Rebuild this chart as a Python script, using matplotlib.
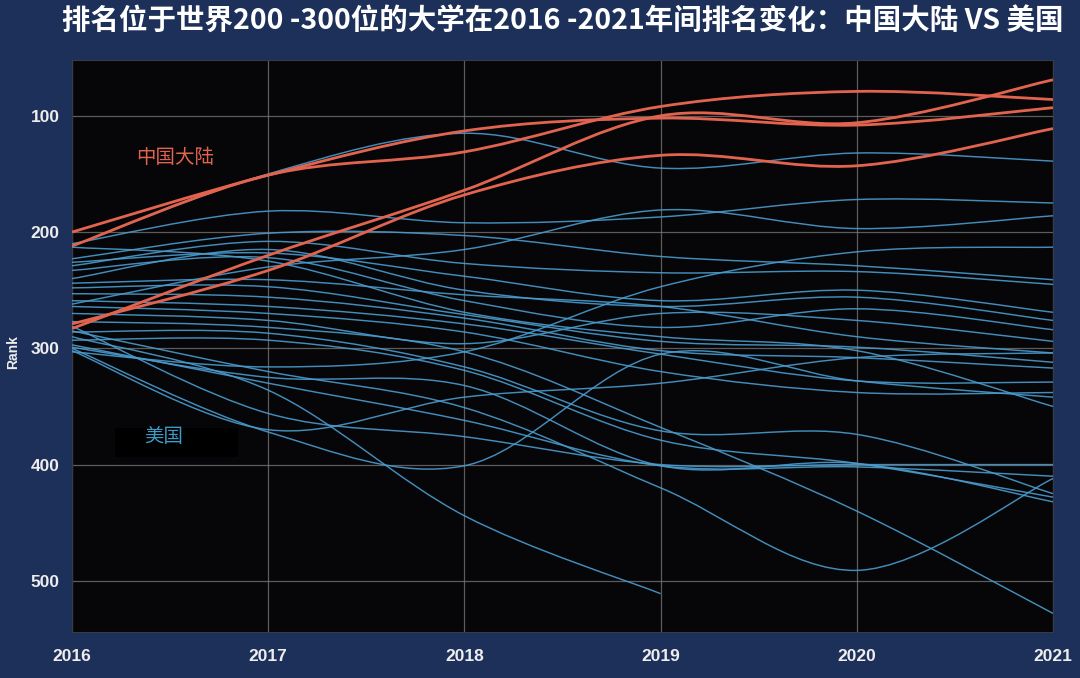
import numpy as np
import matplotlib
matplotlib.use("Agg")
import matplotlib.pyplot as plt
from matplotlib.path import Path
from matplotlib.patches import PathPatch, Rectangle
from matplotlib import font_manager

plt.rcParams["font.family"] = ["Noto Sans CJK SC", "DejaVu Sans"]

# 年份
years = [2016, 2017, 2018, 2019, 2020, 2021]
nan = np.nan

# 中国大陆大学排名
china_ranks = [
    [200, 151, 113, 102, 108, 93],
    [212, 151, 131, 92, 79, 86],
    [283, 220, 164, 100, 106, 69],
    [279, 233, 168, 134, 143, 111],
]

# 美国大学排名
us_ranks = [
    [212, 150, 115, 145, 132, 139],
    [210, 182, 192, 187, 172, 175],
    [262, 230, 215, 181, 197, 186],
    [303, 316, 303, 247, 217, 213],
    [223, 201, 203, 221, 229, 241],
    [229, 208, 227, 235, 234, 245],
    [226, 218, 238, 259, 250, 269],
    [240, 215, 250, 264, 256, 276],
    [233, 222, 259, 282, 266, 284],
    [244, 241, 254, 264, 290, 304],
    [213, 225, 269, 290, 302, 350],
    [248, 247, 271, 294, 299, 312],
    [253, 256, 274, 302, 308, 317],
    [259, 264, 279, 305, 328, 329],
    [264, 270, 286, 320, 338, 338],
    [270, 276, 296, 270, 276, 294],
    [277, 282, 303, 368, 440, 528],
    [286, 287, 316, 371, 374, 425],
    [293, 293, 319, 379, 399, 428],
    [299, 325, 332, 401, 399, 432],
    [285, 320, 351, 420, 491, 412],
    [290, 336, 444, 511, nan, nan],
    [300, 372, 401, 305, 328, 342],
    [302, 370, 342, 330, 308, 304],
    [297, 330, 362, 401, 402, 410],
    [281, 356, 376, 400, 400, 400],
]

rank_ticks = [100, 200, 300, 400, 500]

BG = "#1c3059"
PLOT_BG = "#060608"
RED = "#e2644f"
BLUE = "#4a9ccf"


def smooth_path(xs, ys):
    """用 Catmull-Rom 转 Bezier 的方式画平滑曲线"""
    pts = [(x, y) for x, y in zip(xs, ys) if not np.isnan(y)]
    n = len(pts)
    verts = [pts[0]]
    codes = [Path.MOVETO]
    for i in range(n - 1):
        p0 = pts[max(i - 1, 0)]
        p1 = pts[i]
        p2 = pts[i + 1]
        p3 = pts[min(i + 2, n - 1)]
        c1 = (p1[0] + (p2[0] - p0[0]) / 6, p1[1] + (p2[1] - p0[1]) / 6)
        c2 = (p2[0] - (p3[0] - p1[0]) / 6, p2[1] - (p3[1] - p1[1]) / 6)
        verts += [c1, c2, p2]
        codes += [Path.CURVE4] * 3
    return Path(verts, codes)


# 刻度字体：优先用窄体
names = {f.name for f in font_manager.fontManager.ttflist}
tick_family = [f for f in ["Liberation Sans Narrow", "Liberation Sans"] if f in names] + ["DejaVu Sans"]

fig = plt.figure(figsize=(10.8, 6.78), dpi=100, facecolor=BG)
ax = fig.add_axes([72 / 1080, 46 / 678, 981 / 1080, 572 / 678])
ax.set_facecolor(PLOT_BG)

for ranks in us_ranks:
    ax.add_patch(PathPatch(smooth_path(years, ranks), fill=False,
                           edgecolor=BLUE, lw=1.05, alpha=0.9, zorder=3))
for ranks in china_ranks:
    ax.add_patch(PathPatch(smooth_path(years, ranks), fill=False,
                           edgecolor=RED, lw=2.0, zorder=4))

ax.set_xlim(2016, 2021)
ax.set_ylim(544, 52)
ax.set_xticks(years)
ax.set_xticklabels([str(y) for y in years], family=tick_family,
                   fontweight="bold", fontsize=12.5, color="#eeeeee")
ax.set_yticks(rank_ticks)
ax.set_yticklabels([str(r) for r in rank_ticks], family=tick_family,
                   fontweight="bold", fontsize=12.5, color="#eeeeee")
ax.tick_params(length=0)
ax.tick_params(axis="x", pad=12)
ax.tick_params(axis="y", pad=9)
ax.grid(True, color="#7a7a7a", lw=0.9, alpha=0.75, zorder=1)
ax.set_axisbelow(True)
for s in ax.spines.values():
    s.set_color("#3a3a44")

fig.text(13 / 1080, (678 - 352) / 678, "Rank", family=tick_family, fontweight="bold",
         fontsize=10, color="#eeeeee", rotation=90, ha="center", va="center")

# 图例标注
ax.text(0.105, 0.83, "中国大陆", transform=ax.transAxes, color=RED,
        fontsize=14, ha="center", va="center", zorder=6)
ax.add_patch(Rectangle((43 / 981, 175 / 572), 123 / 981, 29 / 572,
                       transform=ax.transAxes, facecolor="#000000",
                       edgecolor="none", zorder=5))
ax.text(0.093, 0.341, "美国", transform=ax.transAxes, color="#3d9bc8",
        fontsize=14, ha="center", va="center", zorder=6)

fig.text(0.521, 0.968, "排名位于世界200 -300位的大学在2016 -2021年间排名变化：中国大陆 VS 美国",
         color="white", fontsize=20.5, fontweight="bold", ha="center", va="center")

fig.savefig("out.png", dpi=100, facecolor=fig.get_facecolor())
